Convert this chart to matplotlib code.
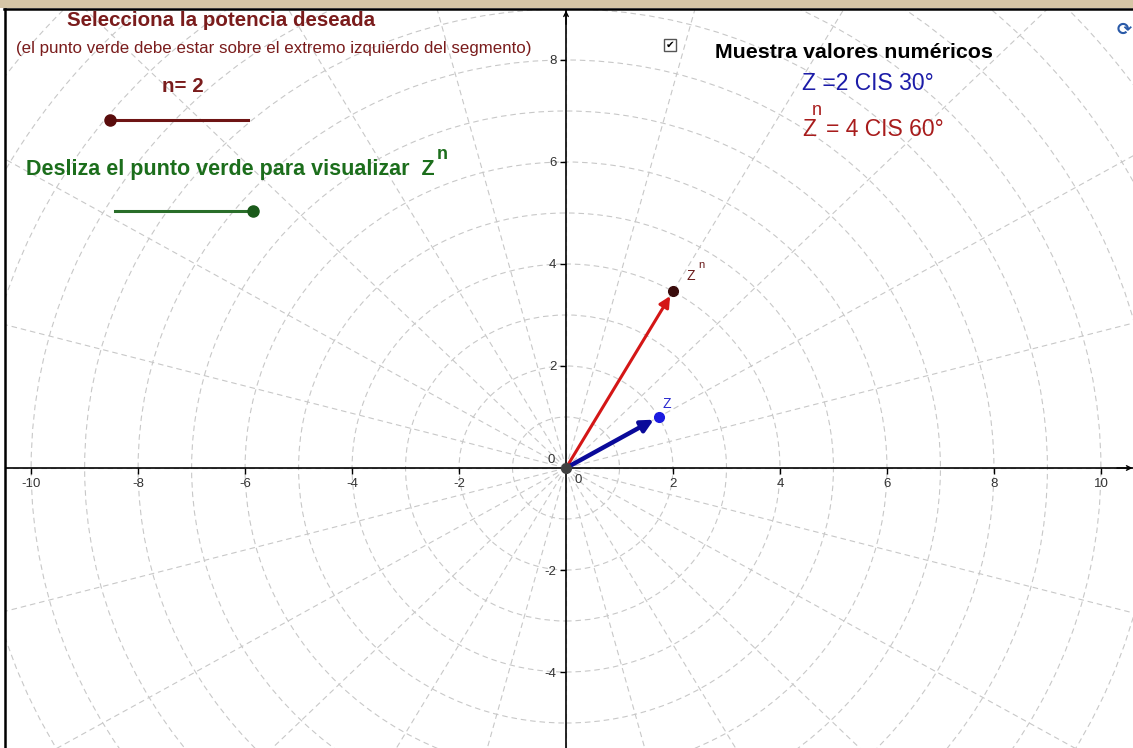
import numpy as np
import matplotlib
matplotlib.use("Agg")
import matplotlib.pyplot as plt
from matplotlib.patches import Circle, Rectangle
from matplotlib.lines import Line2D

plt.rcParams['font.family'] = ['Liberation Sans', 'DejaVu Sans']
plt.rcParams['axes.unicode_minus'] = False

# datos: z = r cis theta, potencia n
n = 2
z_mod, z_arg = 2, 30
zn_mod, zn_arg = z_mod ** n, z_arg * n
x_ticks = [-10, -8, -6, -4, -2, 2, 4, 6, 8, 10]
y_ticks = [-4, -2, 2, 4, 6, 8]
grid_radii = list(range(1, 16))
grid_angles = list(range(0, 360, 15))
slider_n = [(-8.52, 6.82), (-5.94, 6.82)]      # deslizador de n
slider_z = [(-8.43, 5.04), (-5.85, 5.04)]      # deslizador verde

W, H = 1133, 748
fig = plt.figure(figsize=(W / 100, H / 100), dpi=100)
fig.patch.set_facecolor('white')

def fx(px):
    return px / W

def fy(py):
    return 1 - py / H

ax = fig.add_axes([fx(6), 0, fx(1133) - fx(6), fy(10)])
ax.set_xlim(-10.47, 10.60)
ax.set_ylim(-5.49, 8.98)
ax.set_facecolor('white')

# rejilla polar
gcol = '#c8c8c8'
dash = (0, (5, 3.5))
for r in grid_radii:
    ax.add_patch(Circle((0, 0), r, fill=False, ec=gcol, lw=0.8, ls=dash, zorder=1))
for a in grid_angles:
    t = np.radians(a)
    ax.plot([0, 16 * np.cos(t)], [0, 16 * np.sin(t)], color=gcol, lw=0.8, ls=dash, zorder=1)

# ejes
for s in ['top', 'right']:
    ax.spines[s].set_visible(False)
for s in ['left', 'bottom']:
    ax.spines[s].set_position(('data', 0))
    ax.spines[s].set_linewidth(1.2)
    ax.spines[s].set_zorder(3)
ax.set_xticks(x_ticks)
ax.set_yticks(y_ticks)
ax.tick_params(axis='both', length=4, width=1, color='black', labelsize=9.5,
               labelcolor='#333333', direction='out', pad=3)
ax.annotate('0', (0, 0), xytext=(8.6, -9), textcoords='offset points',
            ha='center', va='center', fontsize=9.5, color='#333333')
ax.annotate('0', (0, 0), xytext=(-10.5, 5.5), textcoords='offset points',
            ha='center', va='center', fontsize=9.5, color='#333333')
ax.annotate('', xy=(0, 8.97), xytext=(0, 8.7),
            arrowprops=dict(arrowstyle='->', color='black', lw=1, shrinkA=0, shrinkB=0,
                            mutation_scale=8), zorder=3)
ax.annotate('', xy=(10.59, 0), xytext=(10.3, 0),
            arrowprops=dict(arrowstyle='->', color='black', lw=1, shrinkA=0, shrinkB=0,
                            mutation_scale=8), zorder=3)

# vectores
z = (z_mod * np.cos(np.radians(z_arg)), z_mod * np.sin(np.radians(z_arg)))
zn = (zn_mod * np.cos(np.radians(zn_arg)), zn_mod * np.sin(np.radians(zn_arg)))
ax.annotate('', xy=zn, xytext=(0, 0),
            arrowprops=dict(arrowstyle='-|>', color='#d41616', lw=2.2, shrinkA=0, shrinkB=4,
                            mutation_scale=16), zorder=5)
ax.annotate('', xy=z, xytext=(0, 0),
            arrowprops=dict(arrowstyle='-|>', color='#0a0a9a', lw=3.2, shrinkA=0, shrinkB=4,
                            mutation_scale=18), zorder=6)
ax.plot(*z, 'o', ms=7, color='#1a1ae0', mec='#1a1ae0', zorder=7)
ax.plot(*zn, 'o', ms=7, color='#3a0c0c', mec='#3a0c0c', zorder=7)
ax.plot(0, 0, 'o', ms=7, color='#404040', zorder=7)
ax.text(z[0] + 0.08, z[1] + 0.18, 'Z', color='#2a2ad0', fontsize=10, zorder=8)
ax.text(zn[0] + 0.25, zn[1] + 0.22, 'Z', color='#6a1a1a', fontsize=10, zorder=8)
ax.text(zn[0] + 0.48, zn[1] + 0.45, 'n', color='#6a1a1a', fontsize=8, zorder=8)

# deslizadores
(x0, y0), (x1, y1) = slider_n
ax.plot([x0, x1], [y0, y1], color='#6e1414', lw=2.2, zorder=5)
ax.plot(x0, y0, 'o', ms=8, color='#5a0c0c', zorder=6)
(x0, y0), (x1, y1) = slider_z
ax.plot([x0, x1], [y0, y1], color='#2a6e2a', lw=2.2, zorder=5)
ax.plot(x1, y1, 'o', ms=8, color='#1a5a1a', zorder=6)

# textos
dred = '#7a1c1c'
fig.text(fx(67), fy(21), 'Selecciona la potencia deseada', color=dred, fontsize=14.8,
         fontweight='bold', va='center', ha='left')
fig.text(fx(16), fy(49), '(el punto verde debe estar sobre el extremo izquierdo del segmento)',
         color=dred, fontsize=12.2, va='center', ha='left')
fig.text(fx(162), fy(86), f'n= {n}', color=dred, fontsize=14.8, fontweight='bold',
         va='center', ha='left')
green = '#1c6e1c'
t_des = fig.text(fx(26), fy(169), 'Desliza el punto verde para visualizar  Z', color=green,
                 fontsize=15.5, fontweight='bold', va='center', ha='left')
ax.annotate('n', xy=(1, 1), xycoords=t_des, xytext=(1.5, 3), textcoords='offset points',
            color=green, fontsize=13, fontweight='bold', ha='left', va='center')

fig.text(fx(715), fy(52), 'Muestra valores numéricos', color='black', fontsize=15.4,
         fontweight='bold', va='center', ha='left')
fig.text(fx(802), fy(83), f'Z ={z_mod} CIS {z_arg}°', color='#1c1ca8', fontsize=16.5,
         va='center', ha='left')
t_z = fig.text(fx(802), fy(129), 'Z', color='#a81c1c', fontsize=16.5, va='center', ha='left')
ax.annotate('n', xy=(1, 1), xycoords=t_z, xytext=(-3, 5), textcoords='offset points',
            color='#a81c1c', fontsize=13, ha='left', va='center')
ax.annotate(f'= {zn_mod} CIS {zn_arg}°', xy=(1, 0.5), xycoords=t_z, xytext=(7, 0),
            textcoords='offset points', color='#a81c1c', fontsize=16.5, ha='left', va='center')

# casilla de verificación
fig.patches.append(Rectangle((fx(664), fy(51)), 12 / W, 12 / H, transform=fig.transFigure,
                             fc='white', ec='#555555', lw=1, zorder=10))
fig.text(fx(670), fy(45), '✔', color='black', fontsize=7.5, ha='center', va='center',
         family='DejaVu Sans', zorder=11)

# icono de recarga
fig.text(fx(1124), fy(30), '⟳', color='#2a5aa8', fontsize=13, ha='center', va='center',
         family='DejaVu Sans', fontweight='bold')

# marco
fig.patches.append(Rectangle((0, fy(8)), 1, 8 / H, transform=fig.transFigure,
                             fc='#d6c6a6', ec='none', zorder=10))
fig.lines.append(Line2D([fx(4), 1], [fy(9), fy(9)], transform=fig.transFigure,
                        color='black', lw=1.8, zorder=11))
fig.lines.append(Line2D([fx(4.5), fx(4.5)], [0, fy(9)], transform=fig.transFigure,
                        color='black', lw=1.8, zorder=11))

fig.savefig('out.png', dpi=100)
